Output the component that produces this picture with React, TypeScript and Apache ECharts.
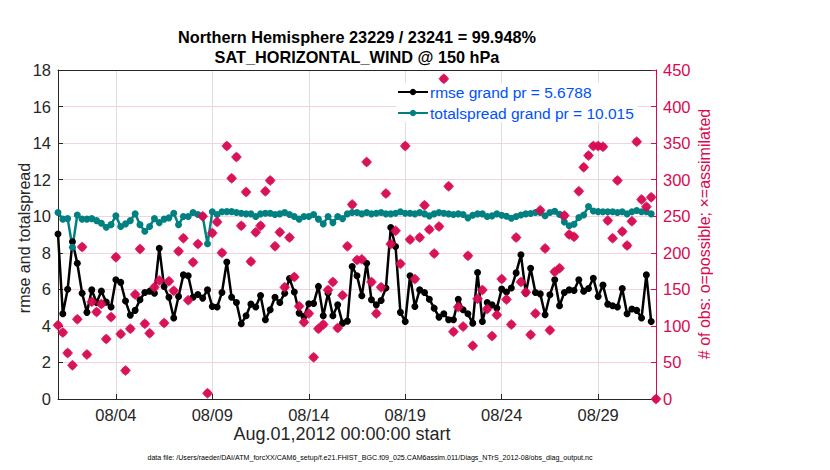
import React, { useEffect, useRef } from 'react';
import * as echarts from 'echarts';

const titleLines = ['Northern Hemisphere 23229 / 23241 = 99.948%', 'SAT_HORIZONTAL_WIND @ 150 hPa'];
const tickLabels = ['08/04', '08/09', '08/14', '08/19', '08/24', '08/29'];
const xAxisTitle = 'Aug.01,2012 00:00:00 start';
const leftAxisTitle = 'rmse and totalspread';
const rightAxisTitle = '# of obs: o=possible; \u00d7=assimilated';
const footnote = 'data file: /Users/raeder/DAI/ATM_forcXX/CAM6_setup/f.e21.FHIST_BGC.f09_025.CAM6assim.011/Diags_NTrS_2012-08/obs_diag_output.nc';
const rmseName = 'rmse grand pr = 5.6788';
const spreadName = 'totalspread grand pr = 10.015';

const stepDays = 0.25; // 6-hourly bins
const firstTickDay = 3; // 08/04 00:00 is 3 days after Aug.01 00:00
const totalDays = 31;

const rmse = [
  9.03, 4.66, 6.0, 8.6, 7.43, 5.79, 4.74, 5.97, 5.28, 5.9,
  5.3, 5.03, 6.52, 6.38, 5.36, 4.59, 4.85, 5.43, 5.83, 5.9,
  5.79, 8.25, 6.16, 5.57, 4.43, 5.61, 6.79, 6.74, 5.57, 5.72,
  5.52, 5.97, 5.06, 5.03, 5.83, 7.49, 5.57, 5.28, 4.12, 4.55,
  5.19, 5.03, 5.66, 4.34, 4.88, 5.57, 5.28, 5.79, 6.59, 5.85,
  4.7, 4.52, 5.21, 5.23, 6.16, 4.55, 5.79, 4.55, 5.15, 4.15,
  4.26, 7.25, 6.74, 5.65, 7.43, 5.43, 5.15, 5.39, 6.07, 9.38,
  8.34, 4.74, 4.24, 6.74, 5.06, 5.97, 5.83, 5.46, 4.97, 4.48,
  4.66, 4.34, 4.34, 5.46, 4.88, 4.66, 4.15, 6.92, 4.24, 5.28,
  5.15, 4.97, 6.01, 5.85, 6.07, 6.9, 7.89, 5.79, 7.15, 5.83,
  5.75, 4.61, 5.7, 6.52, 5.1, 5.83, 5.97, 5.94, 6.52, 5.9,
  6.05, 6.61, 5.61, 6.23, 5.19, 5.1, 5.03, 6.05, 4.66, 4.92,
  4.85, 4.43, 6.79, 4.24,
];

const totalspread = [
  10.2, 9.84, 9.87, 8.3, 10.07, 9.84, 9.84, 9.87, 9.76, 9.62,
  9.4, 9.54, 10.02, 9.44, 9.58, 9.76, 10.13, 9.54, 9.18, 9.44,
  9.87, 9.65, 9.84, 9.91, 10.16, 9.54, 9.98, 9.98, 10.2, 10.09,
  10.0, 8.49, 10.24, 10.09, 10.24, 10.25, 10.25, 10.2, 10.16, 10.13,
  10.13, 9.98, 10.13, 10.16, 10.16, 10.09, 10.13, 10.2, 10.09, 9.98,
  9.84, 9.98, 9.98, 10.09, 9.84, 9.58, 9.98, 9.65, 9.98, 9.87,
  10.13, 10.2, 10.2, 10.13, 10.2, 10.13, 10.16, 10.2, 10.13, 10.13,
  10.16, 10.24, 10.16, 10.16, 10.13, 10.2, 10.13, 10.02, 10.13, 10.2,
  10.16, 10.13, 10.09, 10.13, 10.09, 9.91, 10.05, 10.13, 10.13, 9.98,
  10.02, 10.13, 10.05, 10.0, 9.89, 9.98, 10.07, 10.13, 10.15, 10.2,
  10.2, 10.03, 10.2, 10.27, 10.1, 9.68, 9.48, 9.56, 9.93, 10.07,
  10.53, 10.29, 10.25, 10.24, 10.24, 10.24, 10.2, 10.24, 10.13, 10.24,
  10.31, 10.24, 10.24, 10.13,
];

const obsCount = [
  101, 91, 63, 46, 109, 208, 61, 133, 119, 130,
  82, 112, 194, 89, 39, 96, 143, 205, 103, 90,
  153, 162, 104, 161, 148, 202, 220, 135, 187, 212,
  250, 8, 227, 242, 200, 346, 302, 331, 237, 283,
  188, 228, 237, 284, 299, 209, 228, 153, 221, 167,
  127, 105, 117, 57, 96, 102, 149, 160, 97, 142,
  209, 266, 190, 191, 324, 160, 117, 153, 281, 212,
  230, 185, 346, 218, 164, 221, 265, 232, 199, 236,
  438, 291, 92, 126, 99, 196, 73, 137, 149, 123,
  86, 115, 164, 136, 102, 221, 160, 146, 88, 117,
  258, 206, 94, 174, 179, 251, 225, 222, 284, 317,
  333, 346, 346, 345, 244, 220, 299, 229, 210, 243,
  352, 273, 263, 276, 0,
];

const FONT = 'Liberation Sans, Arial, Helvetica, sans-serif';
const OBS_COLOR = '#d70a53';
const SPREAD_COLOR = '#008080';
const AXIS_COLOR = '#262626';

const xOf = (i: number) => i * stepDays - firstTickDay;

export default function App() {
  const ref = useRef<HTMLDivElement>(null);

  useEffect(() => {
    if (!ref.current) return;
    const chart = echarts.init(ref.current, undefined, { renderer: 'svg' });

    const rmseData = rmse.map((v, i) => [xOf(i), v]);
    const spreadData = totalspread.map((v, i) => [xOf(i), v]);
    const obsData = obsCount.map((v, i) => [xOf(i), v]);

    const gridLeft = 58;
    const gridTop = 70;
    const gridW = 598;
    const gridH = 329;
    const cx = gridLeft + gridW / 2;

    chart.setOption({
      animation: false,
      backgroundColor: '#ffffff',
      textStyle: { fontFamily: FONT },
      grid: { left: gridLeft, top: gridTop, width: gridW, height: gridH, containLabel: false },
      legend: {
        orient: 'vertical',
        left: 396,
        top: 83,
        itemWidth: 30,
        itemHeight: 8,
        itemGap: 5,
        padding: [1, 4, 1, 1],
        backgroundColor: '#ffffff',
        textStyle: { color: '#0050ff', fontSize: 15.5, fontFamily: FONT, padding: [0, 0, 0, -3] },
        data: [rmseName, spreadName],
      },
      xAxis: [
        {
          type: 'value',
          min: -firstTickDay,
          max: totalDays - firstTickDay,
          splitNumber: 5,
          axisLine: { show: true, onZero: false, lineStyle: { color: AXIS_COLOR, width: 1 } },
          axisTick: { show: true, inside: true, length: 5, lineStyle: { color: AXIS_COLOR } },
          axisLabel: {
            color: AXIS_COLOR,
            fontSize: 16.5,
            fontFamily: FONT,
            margin: 7,
            showMinLabel: true,
            showMaxLabel: true,
            formatter: (v: number) => {
              const k = Math.round(v / 5);
              return Math.abs(v - k * 5) < 1e-6 && k >= 0 && k < tickLabels.length ? tickLabels[k] : '';
            },
          },
          splitLine: { show: true, lineStyle: { color: '#dedede', width: 1 } },
        },
        {
          type: 'value',
          position: 'top',
          min: -firstTickDay,
          max: totalDays - firstTickDay,
          axisLine: { show: true, onZero: false, lineStyle: { color: AXIS_COLOR, width: 1 } },
          axisTick: { show: false },
          axisLabel: { show: false },
          splitLine: { show: false },
        },
      ],
      yAxis: [
        {
          type: 'value',
          min: 0,
          max: 18,
          interval: 2,
          position: 'left',
          axisLine: { show: true, onZero: false, lineStyle: { color: AXIS_COLOR, width: 1 } },
          axisTick: { show: true, inside: true, length: 5, lineStyle: { color: AXIS_COLOR } },
          axisLabel: { color: AXIS_COLOR, fontSize: 16.5, fontFamily: FONT, margin: 7 },
          splitLine: { show: false },
        },
        {
          type: 'value',
          min: 0,
          max: 450,
          interval: 50,
          position: 'right',
          axisLine: { show: true, onZero: false, lineStyle: { color: OBS_COLOR, width: 1 } },
          axisTick: { show: true, inside: true, length: 5, lineStyle: { color: OBS_COLOR } },
          axisLabel: { color: OBS_COLOR, fontSize: 16.5, fontFamily: FONT, margin: 7 },
          splitLine: { show: true, lineStyle: { color: '#f4d3df', width: 1 } },
        },
      ],
      graphic: [
        {
          type: 'text', x: cx, y: 37, z: 10,
          style: { text: titleLines[0], fontSize: 16.3, fontWeight: 'bold', fontFamily: FONT, fill: '#000', align: 'center', verticalAlign: 'middle' },
        },
        {
          type: 'text', x: cx, y: 57, z: 10,
          style: { text: titleLines[1], fontSize: 16.3, fontWeight: 'bold', fontFamily: FONT, fill: '#000', align: 'center', verticalAlign: 'middle' },
        },
        {
          type: 'text', x: 24, y: 238, rotation: Math.PI / 2, z: 10,
          style: { text: leftAxisTitle, fontSize: 16, fontFamily: FONT, fill: AXIS_COLOR, align: 'center', verticalAlign: 'middle' },
        },
        {
          type: 'text', x: 704, y: 234, rotation: Math.PI / 2, z: 10,
          style: { text: rightAxisTitle, fontSize: 16, fontFamily: FONT, fill: OBS_COLOR, align: 'center', verticalAlign: 'middle' },
        },
        {
          type: 'text', x: 342, y: 434, z: 10,
          style: { text: xAxisTitle, fontSize: 18, fontFamily: FONT, fill: AXIS_COLOR, align: 'center', verticalAlign: 'middle' },
        },
        {
          type: 'text', x: 370, y: 458, z: 10,
          style: { text: footnote, fontSize: 7.1, fontFamily: FONT, fill: '#000', align: 'center', verticalAlign: 'middle' },
        },
      ],
      series: [
        {
          name: rmseName,
          type: 'line',
          xAxisIndex: 0,
          yAxisIndex: 0,
          data: rmseData,
          symbol: 'circle',
          symbolSize: 7,
          showAllSymbol: true,
          color: '#000000',
          lineStyle: { color: '#000000', width: 2.5 },
          itemStyle: { color: '#000000' },
          z: 3,
        },
        {
          name: spreadName,
          type: 'line',
          xAxisIndex: 0,
          yAxisIndex: 0,
          data: spreadData,
          symbol: 'circle',
          symbolSize: 7,
          showAllSymbol: true,
          color: SPREAD_COLOR,
          lineStyle: { color: SPREAD_COLOR, width: 2.5 },
          itemStyle: { color: SPREAD_COLOR },
          z: 3,
        },
        {
          name: 'possible',
          type: 'scatter',
          xAxisIndex: 0,
          yAxisIndex: 1,
          data: obsData,
          symbol: 'circle',
          symbolSize: 8,
          itemStyle: { color: OBS_COLOR },
          clip: false,
          z: 6,
        },
        {
          name: 'assimilated',
          type: 'scatter',
          xAxisIndex: 0,
          yAxisIndex: 1,
          data: obsData,
          symbol: 'diamond',
          symbolSize: 11,
          itemStyle: { color: OBS_COLOR },
          clip: false,
          z: 6,
        },
      ],
    });

    return () => chart.dispose();
  }, []);

  return <div ref={ref} style={{ position: 'absolute', left: 0, top: 0, width: 830, height: 470 }} />;
}
